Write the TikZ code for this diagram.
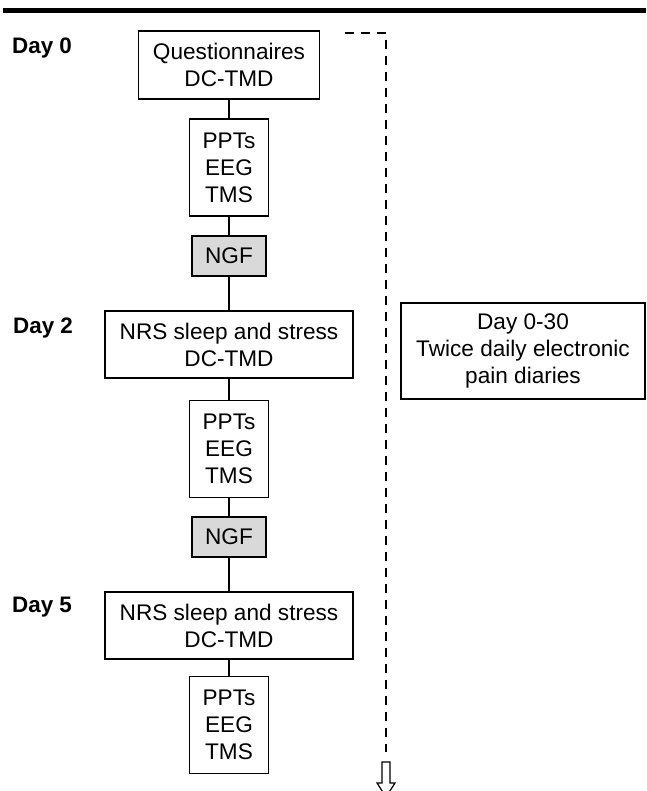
\documentclass[tikz,border=0pt]{standalone}
\usepackage{fontspec}
\setmainfont{Liberation Sans}
\usetikzlibrary{arrows.meta}
\tikzset{>={Latex[width=3pt,length=5pt]}}
\tikzset{
  box/.style={draw, line width=1.3pt, fill=white, align=center, inner sep=0pt,
    font=\fontsize{22.6}{27}\selectfont},
  widebox/.style={box, minimum width=248pt, minimum height=67pt},
  testbox/.style={box, minimum width=79pt, minimum height=97pt},
  ngfbox/.style={box, fill=black!15, minimum width=74pt, minimum height=40pt},
  daylabel/.style={anchor=west, inner sep=0pt, font=\fontsize{22.4}{27}\selectfont\bfseries},
  link/.style={line width=1.6pt},
}

\begin{document}
\begin{tikzpicture}[x=1pt,y=1pt]
  \useasboundingbox (0,0) rectangle (646,791);

  \newcommand\CX{229};

  \draw[line width=5.5pt] (3,780.5) -- (646,780.5); %% top rule

  %% day 0
  \node[daylabel] (day0) at (12,743) {Day 0};
  \node[box, minimum width=181pt, minimum height=68pt] (quest) at (\CX,726) {Questionnaires\\DC-TMD};
  \node[testbox] (tests0) at (\CX,623.5) {PPTs\\EEG\\TMS};
  \node[ngfbox] (ngf0) at (\CX,535) {NGF};

  %% day 2
  \node[daylabel] (day2) at (13,463) {Day 2};
  \node[widebox] (nrs2) at (\CX,446.5) {NRS sleep and stress\\DC-TMD};
  \node[testbox] (tests2) at (\CX,342) {PPTs\\EEG\\TMS};
  \node[ngfbox] (ngf2) at (\CX,254) {NGF};

  %% day 5
  \node[daylabel] (day5) at (12,184) {Day 5};
  \node[widebox] (nrs5) at (\CX,165.5) {NRS sleep and stress\\DC-TMD};
  \node[testbox] (tests5) at (\CX,66) {PPTs\\EEG\\TMS};

  %% diaries
  \node[box, minimum width=244pt, minimum height=96pt] (diary) at (523,440)
    {Day 0-30\\Twice daily electronic\\pain diaries};

  \draw[link] (quest) -- (tests0);
  \draw[link] (tests0) -- (ngf0);
  \draw[link] (ngf0) -- (nrs2);
  \draw[link] (nrs2) -- (tests2);
  \draw[link] (tests2) -- (ngf2);
  \draw[link] (ngf2) -- (nrs5);
  \draw[link] (nrs5) -- (tests5);

  %% dashed time line
  \coordinate (tstart) at (345,758);
  \coordinate (tend) at (386,39);
  \draw[line width=2.3pt, dash pattern=on 9pt off 7pt] (tstart) -- (tstart -| tend) -- (tend);

  %% hollow arrow
  \coordinate (tip) at (386,-6);
  \draw[line width=1.2pt, fill=white] ([xshift=-4pt]tend |- 0,29) -- ([xshift=4pt]tend |- 0,29)
    -- ([xshift=4pt]tend |- 0,8) -- ([xshift=9pt]tend |- 0,8) -- (tip)
    -- ([xshift=-9pt]tend |- 0,8) -- ([xshift=-4pt]tend |- 0,8) -- cycle;

\end{tikzpicture}
\end{document}
